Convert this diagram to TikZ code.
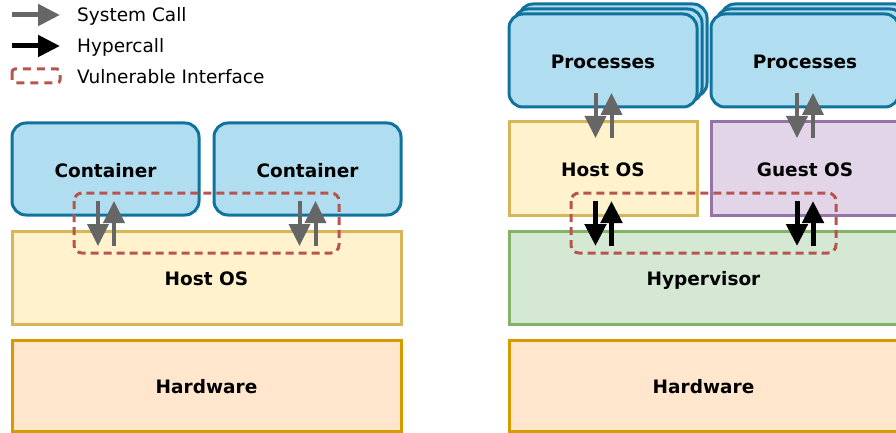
\documentclass[tikz,border=0pt]{standalone}
\usepackage{fontspec}
\setmainfont{DejaVu Sans}
\usetikzlibrary{arrows.meta,positioning}
\definecolor{appF}{HTML}{B1DDF0}
\definecolor{appD}{HTML}{10739E}
\definecolor{osF}{HTML}{FFF2CC}
\definecolor{osD}{HTML}{D6B656}
\definecolor{hwF}{HTML}{FFE6CC}
\definecolor{hwD}{HTML}{D79B00}
\definecolor{hvF}{HTML}{D5E8D4}
\definecolor{hvD}{HTML}{82B366}
\definecolor{gsF}{HTML}{E1D5E7}
\definecolor{gsD}{HTML}{9673A6}
\definecolor{vulnR}{HTML}{B85450}
\definecolor{callG}{HTML}{666666}

\begin{document}
\begin{tikzpicture}[x=1pt,y=-1pt,
	box/.style={draw,line width=3pt,inner sep=0pt,minimum width=188pt,minimum height=93pt,text height=16.5pt,text depth=0pt,font=\fontsize{18.5}{22}\selectfont\bfseries},
	wide/.style={box,minimum width=389pt},
	app/.style={box,fill=appF,draw=appD,rounded corners=14pt},
	hostos/.style={fill=osF,draw=osD},
	hw/.style={wide,fill=hwF,draw=hwD,minimum height=91pt},
	sys/.style={draw=callG,line width=4pt,-{Triangle[width=21pt,length=22pt]}},
	hyp/.style={draw=black,line width=5pt,-{Triangle[width=21pt,length=22pt]}},
	vuln/.style={draw=vulnR,line width=3pt,dash pattern=on 8pt off 5pt,rounded corners=8pt},
	legend/.style={anchor=base west,inner sep=0pt,font=\fontsize{18.5}{22}\selectfont}]
	\useasboundingbox (0,0) rectangle (896,433);

	% legend
	\coordinate (lg1s) at (12,15);   \coordinate (lg1e) at (60,15);
	\coordinate (lg2s) at (12,46);   \coordinate (lg2e) at (60,46);
	\draw[sys,line width=5pt] (lg1s) -- (lg1e);
	\draw[hyp] (lg2s) -- (lg2e);
	\draw[vuln,dash pattern=on 8pt off 6pt,rounded corners=3pt] (12,69) rectangle (60,83);
	\node[legend] (L1) at (77,21.5) {System Call};
	\node[legend] (L2) at (77,52.5) {Hypercall};
	\node[legend] (L3) at (77,83.5) {Vulnerable Interface};

	% containers
	\node[app,minimum width=187pt,minimum height=92pt] (C1) at (105.5,169) {Container};
	\node[app,minimum width=187pt,minimum height=92pt] (C2) at (307.5,169) {Container};
	\node[wide,hostos] (HOS1) at (206.5,277.5) {Host OS};
	\node[hw] (HW1) at (206.5,385.5) {Hardware};

	% virtual machines
	\foreach \x/\n in {603/P1,805/P2} {
		\node[app] (\n c) at (\x+10,50.5) {};
		\node[app] (\n b) at (\x+5,55.5) {};
		\node[app] (\n) at (\x,60.5) {Processes};
	}
	\node[box,hostos] (HOS2) at (603,168.5) {Host OS};
	\node[box,fill=gsF,draw=gsD] (GOS) at (805,168.5) {Guest OS};
	\node[wide,fill=hvF,draw=hvD] (HV) at (703.5,277.5) {Hypervisor};
	\node[hw] (HW2) at (703.5,385.5) {Hardware};

	% vulnerable interfaces
	\draw[vuln] (74,193) rectangle (339,253);
	\draw[vuln] (571,193) rectangle (836,253);

	% calls
	\foreach \x/\n in {98/ca,299.5/cb,595.5/va,797/vb} {
		\coordinate (\n1) at (\x,201);     \coordinate (\n2) at (\x,246);
		\coordinate (\n3) at (\x+16,246);  \coordinate (\n4) at (\x+16,201);
	}
	\foreach \x/\n in {595.5/pa,797/pb} {
		\coordinate (\n1) at (\x,93);      \coordinate (\n2) at (\x,138);
		\coordinate (\n3) at (\x+16,138);  \coordinate (\n4) at (\x+16,93);
	}
	\foreach \n in {ca,cb,pa,pb} {
		\draw[sys] (\n1) -- (\n2);
		\draw[sys] (\n3) -- (\n4);
	}
	\foreach \n in {va,vb} {
		\draw[hyp] (\n1) -- (\n2);
		\draw[hyp] (\n3) -- (\n4);
	}
\end{tikzpicture}
\end{document}
